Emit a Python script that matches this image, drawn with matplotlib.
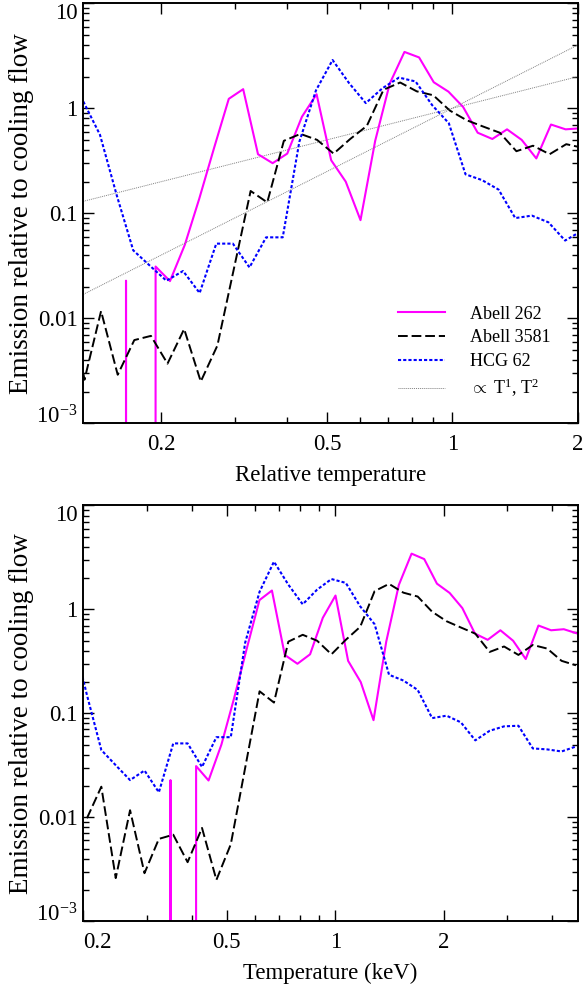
import matplotlib
matplotlib.use("Agg")
import matplotlib.pyplot as plt
import numpy as np
from matplotlib.ticker import FixedLocator, FixedFormatter, LogLocator, NullFormatter

plt.rcParams['font.family'] = ['Liberation Serif', 'DejaVu Serif']
plt.rcParams['mathtext.fontset'] = 'custom'
plt.rcParams['mathtext.rm'] = 'Liberation Serif'
plt.rcParams['mathtext.it'] = 'Liberation Serif:italic'

# temperatures in keV, emission relative to cooling flow (0 = nothing fitted)
t_a262 = [0.274, 0.297, 0.322, 0.349, 0.379, 0.411, 0.445, 0.483, 0.523, 0.568,
          0.616, 0.667, 0.724, 0.785, 0.851, 0.923, 1.001, 1.085, 1.176, 1.276,
          1.384, 1.500, 1.627, 1.764, 1.913, 2.075, 2.250, 2.439, 2.645, 2.869,
          3.111, 3.373, 3.658, 3.966, 4.301, 4.664]
e_a262 = [0, 0, 0, 0.0228, 0, 0.0311, 0.0226, 0.050, 0.137, 0.42,
          1.23, 1.52, 0.365, 0.30, 0.37, 0.83, 1.36, 0.32, 0.20, 0.086,
          0.49, 1.72, 3.44, 3.05, 1.77, 1.44, 1.03, 0.585, 0.51, 0.63,
          0.50, 0.333, 0.70, 0.63, 0.645, 0.59]

t_a3581 = [0.2047, 0.2244, 0.2460, 0.2696, 0.2956, 0.3240, 0.3552, 0.3893, 0.4268,
           0.4679, 0.5129, 0.5623, 0.6164, 0.6757, 0.7407, 0.8119, 0.8900, 0.9754,
           1.069, 1.172, 1.285, 1.409, 1.544, 1.692, 1.855, 2.034, 2.229, 2.444,
           2.679, 2.937, 3.219, 3.529, 3.869, 4.241, 4.649]
e_a3581 = [0.0098, 0.0197, 0.0026, 0.0117, 0.0029, 0.0062, 0.0068, 0.0037, 0.0079,
           0.0025, 0.0055, 0.030, 0.163, 0.127, 0.49, 0.57, 0.50, 0.37,
           0.51, 0.68, 1.50, 1.76, 1.45, 1.33, 0.95, 0.77, 0.67, 0.585,
           0.39, 0.44, 0.365, 0.455, 0.42, 0.32, 0.29]

t_hcg62 = [0.1703, 0.1867, 0.2047, 0.2244, 0.2460, 0.2696, 0.2956, 0.3240, 0.3552,
           0.3893, 0.4268, 0.4679, 0.5129, 0.5623, 0.6164, 0.6757, 0.7407, 0.8119,
           0.8900, 0.9754, 1.069, 1.172, 1.285, 1.409, 1.544, 1.692, 1.855, 2.034,
           2.229, 2.444, 2.679, 2.937, 3.219, 3.529, 3.869, 4.241, 4.649]
e_hcg62 = [1.16, 0.56, 0.15, 0.0444, 0.0317, 0.0228, 0.0282, 0.0174, 0.0514,
           0.0514, 0.0305, 0.059, 0.059, 0.48, 1.48, 2.88, 1.73, 1.12,
           1.55, 1.96, 1.80, 1.07, 0.72, 0.235, 0.207, 0.168, 0.090, 0.095,
           0.082, 0.055, 0.068, 0.075, 0.076, 0.046, 0.045, 0.043, 0.048]

# cluster temperatures used for the relative scale (keV)
tvir_a262 = 2.12
tvir_a3581 = 1.88
tvir_hcg62 = 1.31

# power law guides, proportional to T^1 and T^2
guide_x = [0.13, 2.0]
guide_t1 = [0.13, 2.0]
guide_t2 = [0.0169, 4.0]

names = ['Abell 262', 'Abell 3581', 'HCG 62']
ytick_vals = [1e-3, 1e-2, 0.1, 1, 10]
ytick_text = ['10$^{-3}$', '0.01', '0.1', '1', '10']

MAGENTA = '#ff00ff'
BLUE = '#0000ff'
style_a262 = dict(color=MAGENTA, lw=1.5, ls='-')
style_a3581 = dict(color='black', lw=1.4, ls=(0, (5, 2)))
style_hcg62 = dict(color=BLUE, lw=1.5, ls=(0, (1.5, 1)))
style_guide = dict(color='#808080', lw=0.7, ls=(0, (1, 1)))


def setup_axes(ax, xlim, xticks, xtext):
    ax.set_xscale('log')
    ax.set_yscale('log')
    ax.set_xlim(xlim)
    ax.set_ylim(1e-3, 10)
    ax.xaxis.set_major_locator(FixedLocator(xticks))
    ax.xaxis.set_major_formatter(FixedFormatter(xtext))
    ax.xaxis.set_minor_locator(LogLocator(base=10, subs=np.arange(2, 10), numticks=20))
    ax.xaxis.set_minor_formatter(NullFormatter())
    ax.yaxis.set_major_locator(FixedLocator(ytick_vals))
    ax.yaxis.set_major_formatter(FixedFormatter(ytick_text))
    ax.yaxis.set_minor_locator(LogLocator(base=10, subs=np.arange(2, 10), numticks=20))
    ax.yaxis.set_minor_formatter(NullFormatter())
    ax.tick_params(which='both', direction='in', top=True, right=True, width=1)
    ax.tick_params(which='major', length=8, labelsize=16.5)
    ax.tick_params(which='minor', length=4.5)
    ax.tick_params(axis='x', pad=8)
    ax.tick_params(axis='y', pad=4)
    for sp in ax.spines.values():
        sp.set_linewidth(1.4)
    # keep the end labels inside the figure
    yt = ax.yaxis.get_major_ticks()
    yt[0].label1.set_va('baseline')
    yt[-1].label1.set_va('top')


fig = plt.figure(figsize=(5.83, 9.89), dpi=100)
ax1 = fig.add_axes([0.1429, 0.5720, 0.8480, 0.4247])
ax2 = fig.add_axes([0.1429, 0.0685, 0.8480, 0.4204])

# top panel: relative temperature
ax1.plot(guide_x, guide_t1, **style_guide)
ax1.plot(np.array(t_a262) / tvir_a262, e_a262, label=names[0], **style_a262)
ax1.plot(np.array(t_a3581) / tvir_a3581, e_a3581, label=names[1], **style_a3581)
ax1.plot(np.array(t_hcg62) / tvir_hcg62, e_hcg62, label=names[2], **style_hcg62)
ax1.plot(guide_x, guide_t2, label=r'$\propto$ T$^{1}$, T$^{2}$', **style_guide)
setup_axes(ax1, (0.13, 2.0), [0.2, 0.5, 1, 2], ['0.2', '0.5', '1', '2'])
ax1.set_xlabel('Relative temperature', fontsize=16.5)
ax1.set_ylabel('Emission relative to cooling flow', fontsize=19.5)
ax1.xaxis.set_label_coords(0.5, -0.1)
ax1.yaxis.set_label_coords(-0.10, 0.5)

h, l = ax1.get_legend_handles_labels()
ax1.legend(h, l, loc='upper left', bbox_to_anchor=(0.637, 0.28), frameon=False,
           fontsize=13, handlelength=2.6, handletextpad=1.4, labelspacing=0.37,
           borderpad=0, borderaxespad=0)

# bottom panel: temperature in keV
ax2.plot(t_a262, e_a262, **style_a262)
ax2.plot(t_a3581, e_a3581, **style_a3581)
ax2.plot(t_hcg62, e_hcg62, **style_hcg62)
setup_axes(ax2, (0.2, 4.7), [0.2, 0.5, 1, 2], ['0.2', '0.5', '1', '2'])
ax2.xaxis.get_major_ticks()[0].label1.set_ha('left')
ax2.set_xlabel('Temperature (keV)', fontsize=16.5)
ax2.set_ylabel('Emission relative to cooling flow', fontsize=19.5)
ax2.xaxis.set_label_coords(0.5, -0.1)
ax2.yaxis.set_label_coords(-0.10, 0.5)

fig.savefig('out.png', dpi=100)
